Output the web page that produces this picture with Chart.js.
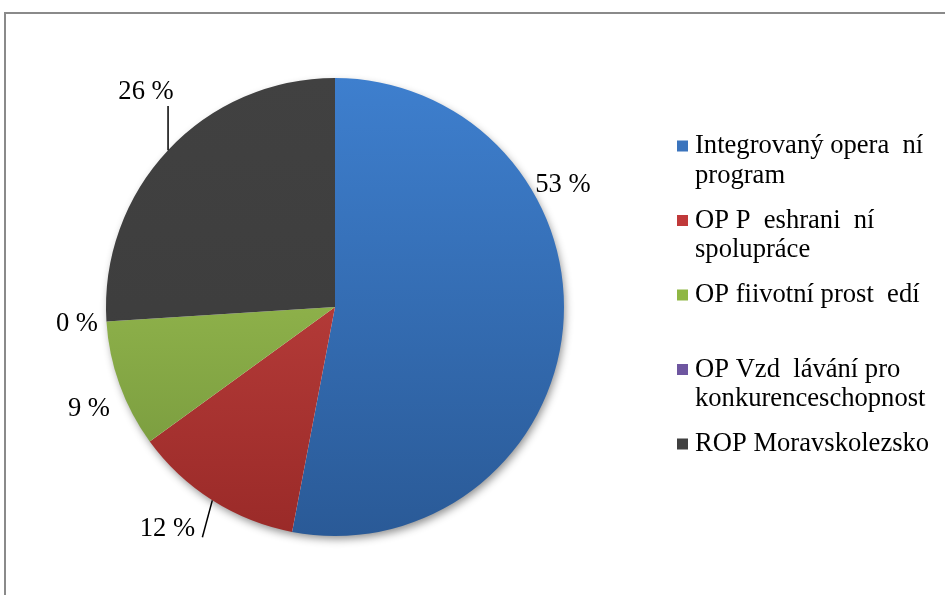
<!DOCTYPE html>
<html>
<head>
<meta charset="utf-8">
<script src="https://cdn.jsdelivr.net/npm/chart.js@4.4.1/dist/chart.umd.min.js"></script>
<style>
html,body{margin:0;padding:0;background:#fff;}
#wrap{position:relative;width:945px;height:595px;overflow:hidden;}
canvas{display:block;}
</style>
</head>
<body>
<div id="wrap"><canvas id="c" width="945" height="595"></canvas></div>
<script>
// ---- data ----
const categories = [
  ["Integrovaný opera  ní", "program"],
  ["OP P  eshrani  ní", "spolupráce"],
  ["OP fiivotní prost  edí"],
  ["OP Vzd  lávání pro", "konkurenceschopnost"],
  ["ROP Moravskolezsko"]
];
const shares = [53, 12, 9, 0, 26];
const valueLabels = ["53 %", "12 %", "9 %", "0 %", "26 %"];

// ---- styles ----
const gradTop = ["#3e7fce", "#cc4a47", "#a9cd59", "#8064a2", "#414141"];
const gradBottom = ["#2a5a97", "#9a2a28", "#71933a", "#5f4a80", "#3b3b3b"];
const legendColors = ["#3b74bd", "#c0393a", "#8fb744", "#6e56a0", "#404040"];
// label placement hints: fraction along slice, radial factor, leader offset (relative to label centre)
const labelPlace = [
  {f:0.323, r:1.131},
  {f:0.61, r:1.212, lead:[35, 9]},
  {f:0.42, r:1.162},
  {f:0.5, r:1.129},
  {f:0.56, r:1.253, lead:[22, 15]}
];

const FONT = '26.6px "Liberation Serif", "Times New Roman", serif';

const framePlugin = {
  id: 'frame',
  beforeDraw(chart) {
    const ctx = chart.ctx;
    ctx.save();
    ctx.fillStyle = '#fff';
    ctx.fillRect(0, 0, chart.width, chart.height);
    ctx.strokeStyle = '#8a8a8a';
    ctx.lineWidth = 2;
    ctx.beginPath();
    ctx.moveTo(5, 595);
    ctx.lineTo(5, 13);
    ctx.lineTo(945, 13);
    ctx.stroke();
    ctx.restore();
  }
};

const shadowPlugin = {
  id: 'pieShadow',
  beforeDatasetsDraw(chart) {
    const arc = chart.getDatasetMeta(0).data[0];
    if (!arc) return;
    const ctx = chart.ctx;
    ctx.save();
    ctx.shadowColor = 'rgba(0,0,0,0.45)';
    ctx.shadowBlur = 9;
    ctx.shadowOffsetX = 2;
    ctx.shadowOffsetY = 4;
    ctx.fillStyle = '#fff';
    ctx.beginPath();
    ctx.arc(arc.x, arc.y, arc.outerRadius - 1, 0, Math.PI * 2);
    ctx.fill();
    ctx.restore();
  }
};

const labelPlugin = {
  id: 'valueLabels',
  afterDatasetsDraw(chart) {
    const ctx = chart.ctx;
    const meta = chart.getDatasetMeta(0);
    ctx.save();
    ctx.font = FONT;
    ctx.fillStyle = '#000';
    ctx.textAlign = 'center';
    ctx.textBaseline = 'middle';
    meta.data.forEach((arc, i) => {
      const p = labelPlace[i];
      const a = arc.startAngle + p.f * (arc.endAngle - arc.startAngle);
      const R = arc.outerRadius;
      const lx = arc.x + Math.cos(a) * R * p.r;
      const ly = arc.y + Math.sin(a) * R * p.r;
      ctx.fillText(valueLabels[i], lx, ly + 1);
      if (p.lead) {
        const mid = (arc.startAngle + arc.endAngle) / 2;
        const ex = arc.x + Math.cos(mid) * R;
        const ey = arc.y + Math.sin(mid) * R;
        ctx.strokeStyle = '#000';
        ctx.lineWidth = 1.5;
        ctx.beginPath();
        ctx.moveTo(lx + p.lead[0], ly + p.lead[1]);
        ctx.lineTo(ex, ey);
        ctx.stroke();
      }
    });
    ctx.restore();
  }
};

const legendPlugin = {
  id: 'sideLegend',
  afterDraw(chart) {
    const ctx = chart.ctx;
    ctx.save();
    ctx.font = FONT;
    ctx.fillStyle = '#000';
    ctx.textAlign = 'left';
    ctx.textBaseline = 'alphabetic';
    const x0 = 677, tx = 695, y0 = 153, slot = 74.5, lh = 29.5, box = 11;
    chart.data.labels.forEach((lab, i) => {
      const by = y0 + i * slot;
      ctx.fillStyle = legendColors[i];
      ctx.fillRect(x0, by - box - 1.5, box, box);
      ctx.fillStyle = '#000';
      lab.forEach((line, k) => ctx.fillText(line, tx, by + k * lh));
    });
    ctx.restore();
  }
};

function grad(ctx, i) {
  const area = ctx.chart.chartArea;
  if (!area) return gradTop[i];
  const g = ctx.chart.ctx.createLinearGradient(0, area.top, 0, area.bottom);
  g.addColorStop(0, gradTop[i]);
  g.addColorStop(1, gradBottom[i]);
  return g;
}

new Chart(document.getElementById('c'), {
  type: 'pie',
  data: {
    labels: categories,
    datasets: [{
      data: shares,
      backgroundColor: (ctx) => grad(ctx, ctx.dataIndex),
      borderWidth: 0
    }]
  },
  options: {
    responsive: false,
    animation: false,
    layout: { padding: { left: 106, right: 381, top: 78, bottom: 59 } },
    plugins: { legend: { display: false }, tooltip: { enabled: false } }
  },
  plugins: [framePlugin, shadowPlugin, labelPlugin, legendPlugin]
});
</script>
</body>
</html>
